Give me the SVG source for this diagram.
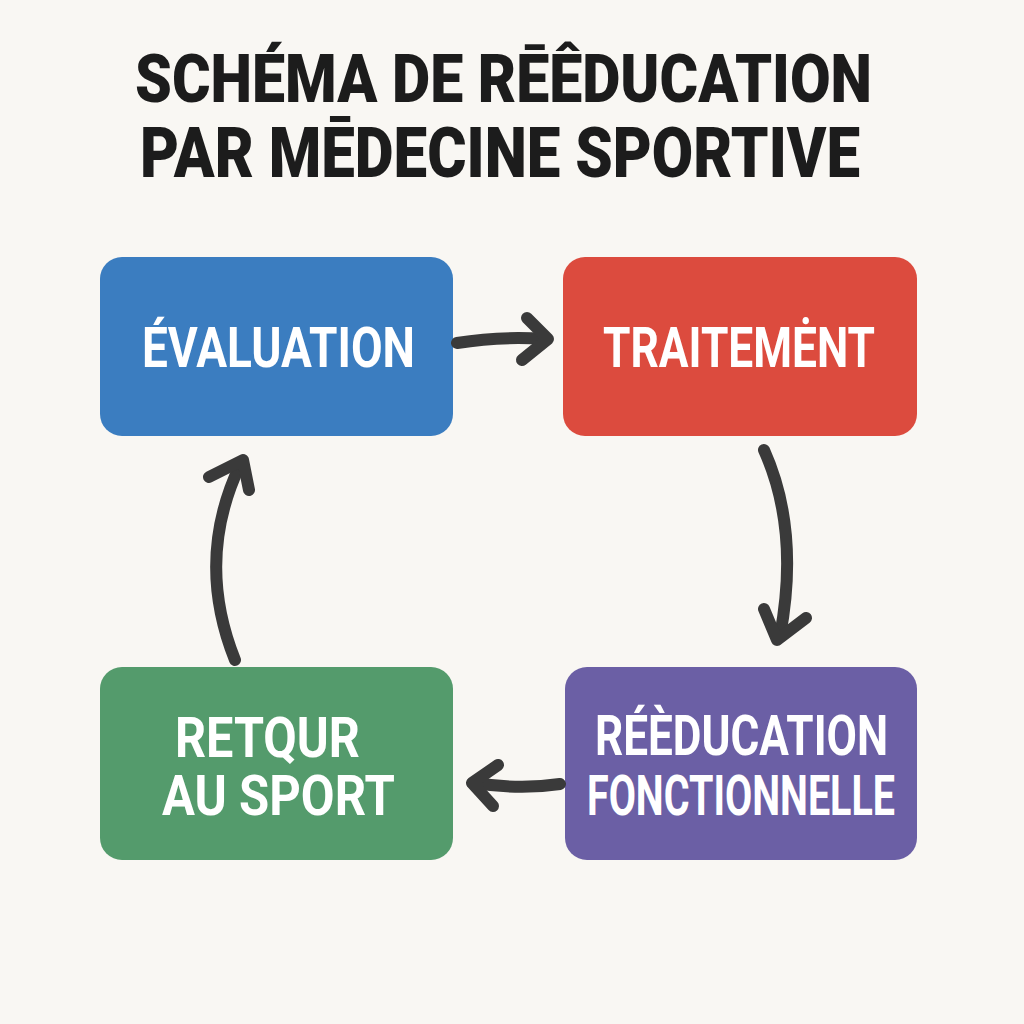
<svg xmlns="http://www.w3.org/2000/svg" width="1024" height="1024" viewBox="0 0 1024 1024">
<style>
.title{font-family:"Roboto","Liberation Sans",sans-serif;font-weight:900;fill:#1c1c1c;font-size:67px}
.lbl{font-family:"Roboto","Liberation Sans",sans-serif;font-weight:700;fill:#ffffff;font-size:55px}
.arr{fill:none;stroke:#3a3a3a;stroke-width:12;stroke-linecap:round;stroke-linejoin:round}
</style>
<rect width="1024" height="1024" fill="#f9f7f3"/>
<g id="title">
<text class="title" x="135" y="102" textLength="737" lengthAdjust="spacingAndGlyphs">SCHÉMA DE RĒÊDUCATION</text>
<text class="title" x="140" y="177" textLength="720" lengthAdjust="spacingAndGlyphs" style="font-size:70px">PAR MĒDECINE SPORTIVE</text>
</g>
<g id="evaluation">
<rect x="100" y="257" width="353" height="179" rx="22" fill="#3b7dc0"/>
<text class="lbl" x="142" y="367" textLength="273" lengthAdjust="spacingAndGlyphs">ÉVALUATION</text>
</g>
<g id="traitement">
<rect x="563" y="257" width="354" height="179" rx="22" fill="#dc4b3e"/>
<text class="lbl" x="603" y="367" textLength="272" lengthAdjust="spacingAndGlyphs">TRAITEMĖNT</text>
</g>
<g id="reeducation">
<rect x="565" y="667" width="352" height="193" rx="22" fill="#6b5fa5"/>
<text class="lbl" x="595" y="755" textLength="293" lengthAdjust="spacingAndGlyphs">RÉÈDUCATION</text>
<text class="lbl" x="587" y="815" textLength="308" lengthAdjust="spacingAndGlyphs">FONCTIONNELLE</text>
</g>
<g id="retour">
<rect x="100" y="667" width="353" height="193" rx="22" fill="#549b6c"/>
<text class="lbl" x="175" y="757" textLength="185" lengthAdjust="spacingAndGlyphs">RETQUR</text>
<text class="lbl" x="162" y="815" textLength="233" lengthAdjust="spacingAndGlyphs">AU SPORT</text>
</g>
<g id="connectors">
<path class="arr" d="M457 343 Q500 336 545 339"/>
<path class="arr" d="M527 318 L548 339 L522 360"/>
<path class="arr" d="M764 450 Q800 530 780 636"/>
<path class="arr" d="M764 609 L777 640 L806 618"/>
<path class="arr" d="M560 784 Q520 790 475 783"/>
<path class="arr" d="M498 765 L472 783 L493 806"/>
<path class="arr" d="M235 660 Q195 560 240 465"/>
<path class="arr" d="M209 477 L243 460 L249 490"/>
</g>
</svg>
